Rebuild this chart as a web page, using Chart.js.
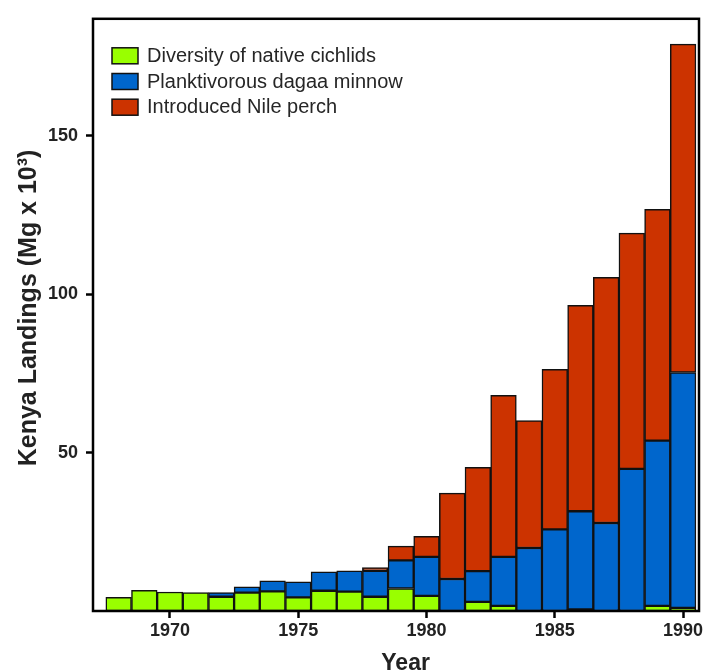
<!DOCTYPE html>
<html>
<head>
<meta charset="utf-8">
<script src="https://cdn.jsdelivr.net/npm/chart.js@4.4.1/dist/chart.umd.min.js"></script>
<style>
  html, body { margin: 0; padding: 0; background: #fff; }
  #wrap { width: 703px; height: 672px; }
</style>
</head>
<body>
<div id="wrap"><canvas id="landingsChart" width="703" height="672"></canvas></div>
<script>
// ---- Data (Mg x 10^3) ----
const years = [1968, 1969, 1970, 1971, 1972, 1973, 1974, 1975, 1976, 1977, 1978, 1979,
               1980, 1981, 1982, 1983, 1984, 1985, 1986, 1987, 1988, 1989, 1990];
const cichlids = [4.3, 6.5, 6.0, 5.8, 4.5, 5.8, 6.2, 4.3, 6.4, 6.1, 4.5, 7.1,
                  4.8, 0, 2.9, 1.6, 0, 0, 0.5, 0, 0, 1.6, 1.0];
const dagaa = [0, 0, 0, 0, 1.3, 1.8, 3.3, 4.9, 6.0, 6.6, 8.2, 8.9,
               12.3, 10.1, 9.7, 15.5, 19.9, 25.8, 31.0, 27.8, 44.9, 52.2, 74.3];
const nilePerch = [0, 0, 0, 0, 0, 0, 0, 0, 0, 0, 1.0, 4.5,
                   6.5, 27.1, 32.8, 51.0, 40.2, 50.5, 65.0, 77.6, 74.4, 73.0, 103.7];
const seriesNames = ['Diversity of native cichlids', 'Planktivorous dagaa minnow', 'Introduced Nile perch'];
const xTicks = [1970, 1975, 1980, 1985, 1990];
const yTicks = [50, 100, 150];

const FONT = '"Liberation Sans", Arial, Helvetica, sans-serif';

// frame round the plot + legend box inside the top-left corner
const frameAndLegend = {
  id: 'frameAndLegend',
  afterDraw(chart) {
    const { ctx, chartArea: a } = chart;
    ctx.save();
    ctx.strokeStyle = '#000';
    ctx.lineWidth = 2.5;
    ctx.strokeRect(a.left, a.top, a.right - a.left, a.bottom - a.top);

    ctx.font = '20px ' + FONT;
    ctx.textBaseline = 'middle';
    ctx.textAlign = 'left';
    chart.data.datasets.forEach((ds, i) => {
      const y = a.top + 29 + i * 25.7;
      ctx.fillStyle = ds.backgroundColor;
      ctx.fillRect(a.left + 19, y, 26, 16);
      ctx.lineWidth = 1.5;
      ctx.strokeStyle = '#111';
      ctx.strokeRect(a.left + 19, y, 26, 16);
      ctx.fillStyle = '#262626';
      ctx.fillText(ds.label, a.left + 54, y + 8.5);
    });
    ctx.restore();
  }
};

const barStyle = { borderColor: '#111', borderWidth: 1.5, borderSkipped: false,
                   barPercentage: 1.0, categoryPercentage: 1.0 };

new Chart(document.getElementById('landingsChart').getContext('2d'), {
  type: 'bar',
  data: {
    labels: years,
    datasets: [
      { label: seriesNames[0], data: cichlids, backgroundColor: '#99ff00', ...barStyle },
      { label: seriesNames[1], data: dagaa, backgroundColor: '#0066cc', ...barStyle },
      { label: seriesNames[2], data: nilePerch, backgroundColor: '#cc3300', ...barStyle }
    ]
  },
  options: {
    responsive: false,
    animation: false,
    layout: { padding: { left: 0, top: 16, right: 4, bottom: 0 } },
    plugins: {
      legend: { display: false },
      tooltip: { enabled: false }
    },
    scales: {
      x: {
        type: 'linear',
        stacked: true,
        offset: false,
        min: 1967,
        max: 1990.62,
        afterBuildTicks: s => { s.ticks = xTicks.map(v => ({ value: v })); },
        afterFit: s => { s.height = 61; s.paddingLeft = 0; s.paddingRight = 0; },
        border: { display: false },
        grid: { display: true, offset: false, drawOnChartArea: false, drawTicks: true,
                tickLength: 7, tickWidth: 2.5, tickColor: '#000' },
        ticks: { padding: 2, color: '#222', font: { family: FONT, size: 18, weight: 'bold' },
                 maxRotation: 0, callback: v => String(v) },
        title: { display: true, text: '   Year', color: '#222',
                 font: { family: FONT, size: 23, weight: 'bold', lineHeight: 0.7 },
                 padding: { top: 0, bottom: 0 } }
      },
      y: {
        stacked: true,
        min: 0,
        max: 187,
        afterBuildTicks: s => { s.ticks = yTicks.map(v => ({ value: v })); },
        afterFit: s => { s.width = 93; },
        border: { display: false },
        grid: { display: true, drawOnChartArea: false, drawTicks: true,
                tickLength: 7, tickWidth: 2.5, tickColor: '#000' },
        ticks: { padding: 8, color: '#222', font: { family: FONT, size: 18, weight: 'bold' } },
        title: { display: true, text: '  Kenya Landings (Mg x 10³)', color: '#222',
                 font: { family: FONT, size: 25, weight: 'bold' },
                 padding: { top: 14, bottom: 0 } }
      }
    }
  },
  plugins: [frameAndLegend]
});
</script>
</body>
</html>
